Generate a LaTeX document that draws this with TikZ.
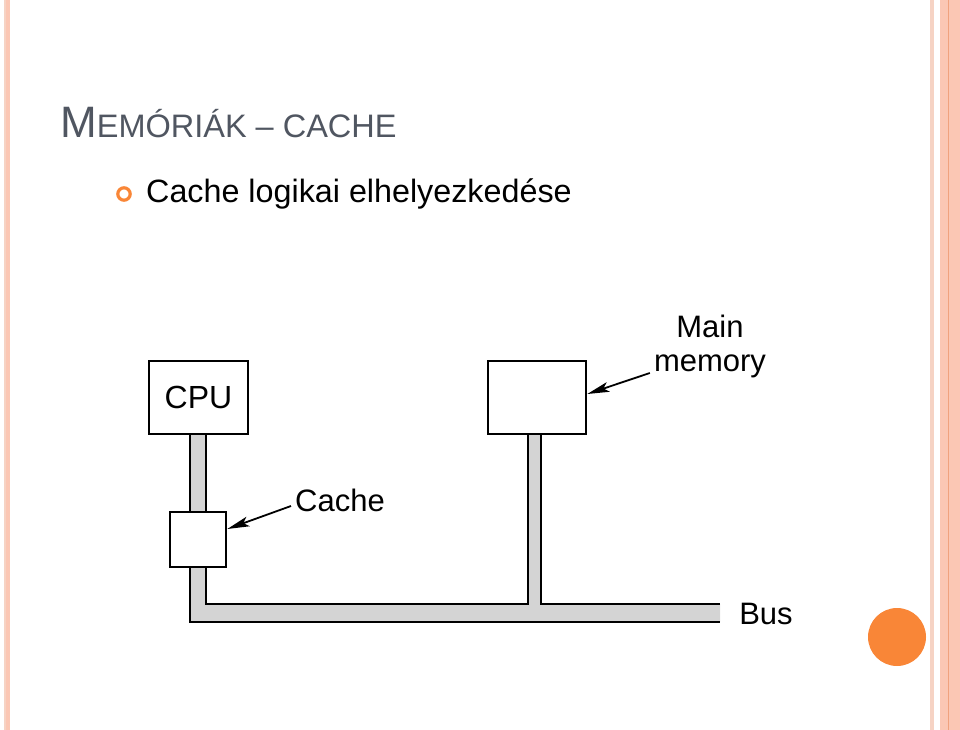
\documentclass[tikz,border=0pt]{standalone}
\usepackage{fontspec}
\setmainfont{Liberation Sans}
\usetikzlibrary{arrows.meta}
\definecolor{titlegray}{HTML}{505661}
\definecolor{bandpink}{HTML}{FBC7B4}
\definecolor{bandpale}{HTML}{F6D3C4}
\definecolor{bandline}{HTML}{F0A27E}
\definecolor{dotorange}{HTML}{F98637}
\definecolor{pipegray}{HTML}{D4D4D4}
\tikzset{
  unit/.style={draw, line width=2.6pt, fill=white, inner sep=0pt},
  lbl/.style={font=\fontsize{31}{34}\selectfont, inner sep=0pt},
  pointer/.style={line width=1.8pt, -{Stealth[length=22pt,width=10pt,inset=5pt]}},
  pipe/.style={line width=2.6pt}
}
\begin{document}
\begin{tikzpicture}[x=1pt,y=-1pt]
    \useasboundingbox (0,0) rectangle (960,730);
    % side bands
    \fill [bandpale] (4,0) rectangle (6,730);
    \fill [bandpink] (6,0) rectangle (10,730);
    \fill [bandpale] (930,0) rectangle (934,730);
    \fill [bandpink] (940,0) rectangle (960,730);
    \draw [bandline, line width=1pt] (948,0) -- (948,730);
    \fill [dotorange] (897,637) circle (29);
    % title and bullet
    \node (title) [anchor=base west, inner sep=0pt, text=titlegray] at (60,138)
        {\fontsize{44}{44}\selectfont M\fontsize{32.5}{33}\selectfont EMÓRIÁK – CACHE};
    \draw [dotorange, line width=3.2pt] (124,194) circle (6.2);
    \node (bullet) [anchor=base west, inner sep=0pt] at (146,202)
        {\fontsize{32.3}{34}\selectfont Cache logikai elhelyezkedése};
    % bus pipes
    \fill [pipegray] (190,434) rectangle (206,512);
    \fill [pipegray] (190,567) -- (190,622) -- (720,622) -- (720,604) -- (541,604)
        -- (541,434) -- (528,434) -- (528,604) -- (206,604) -- (206,567) -- cycle;
    \draw [pipe] (190,434) -- (190,512);
    \draw [pipe] (206,434) -- (206,512);
    \draw [pipe] (190,567) -- (190,622) -- (720,622);
    \draw [pipe] (206,567) -- (206,604) -- (528,604) -- (528,434);
    \draw [pipe] (541,434) -- (541,604) -- (720,604);
    % units
    \node (cpu) [unit, minimum width=99pt, minimum height=73pt] at (198.5,397.5)
        {\fontsize{32}{34}\selectfont CPU};
    \node (mem) [unit, minimum width=98pt, minimum height=73pt] at (537,397.5) {};
    \node (cache) [unit, minimum width=56pt, minimum height=55pt] at (198,539.5) {};
    % labels
    \node (memlbl) [lbl, align=center] at (710,346) {Main\\memory};
    \node (cachelbl) [lbl] at (340,500) {Cache};
    \node (buslbl) [lbl] at (766,614) {Bus};
    \draw [pointer] ([xshift=-4pt]memlbl.west |- 0,373) -- (mem.east |- 0,394);
    \draw [pointer] ([xshift=-4pt]cachelbl.west |- 0,506) -- (cache.east |- 0,529);
\end{tikzpicture}
\end{document}
